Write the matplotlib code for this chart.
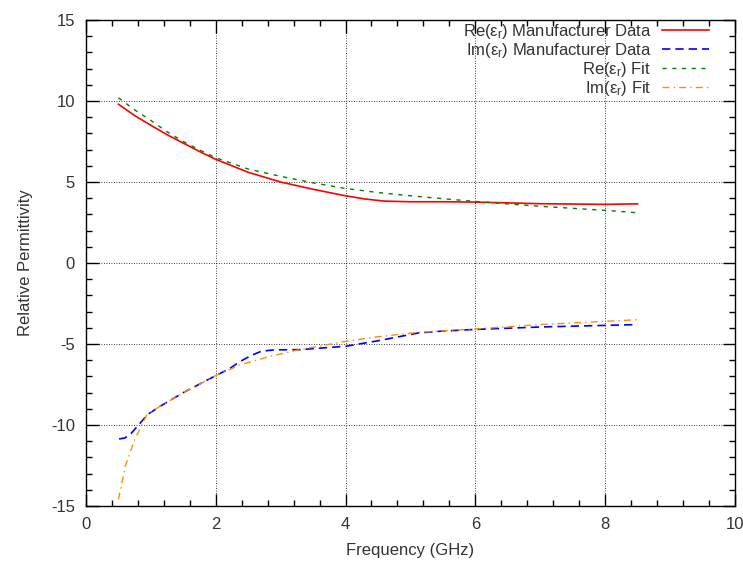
import matplotlib
matplotlib.use("Agg")
import matplotlib.pyplot as plt
from matplotlib.ticker import MultipleLocator

plt.rcParams['font.family'] = ['Liberation Sans', 'DejaVu Sans']
plt.rcParams['mathtext.fontset'] = 'custom'
plt.rcParams['mathtext.rm'] = 'Liberation Sans'
plt.rcParams['mathtext.it'] = 'Liberation Sans'
plt.rcParams['axes.unicode_minus'] = False

txt = '#333333'

# Real part, manufacturer data
re_data_f = [0.5, 0.75, 1.0, 1.25, 1.5, 1.75, 2.0, 2.5, 3.0, 3.5, 4.0, 4.3, 4.6, 5.0, 5.5, 6.0, 7.0, 8.0, 8.5]
re_data = [9.8, 9.1, 8.5, 7.92, 7.4, 6.88, 6.4, 5.6, 5.0, 4.55, 4.15, 3.95, 3.82, 3.78, 3.78, 3.76, 3.66, 3.62, 3.65]

# Imag part, manufacturer data
im_data_f = [0.51, 0.6, 0.7, 0.81, 0.95, 1.14, 1.5, 2.0, 2.2, 2.38, 2.55, 2.7, 2.9, 3.29, 4.0, 4.5, 5.12, 5.5, 6.0, 7.0, 8.0, 8.5]
im_data = [-10.86, -10.8, -10.5, -10.0, -9.35, -8.85, -8.0, -6.95, -6.55, -6.07, -5.7, -5.45, -5.36, -5.35, -5.14, -4.8, -4.32, -4.2, -4.1, -3.95, -3.85, -3.8]

# Real part, fit
re_fit_f = [0.5, 0.75, 1.0, 1.25, 1.5, 1.75, 2.0, 2.5, 3.0, 3.5, 4.0, 4.5, 5.0, 5.5, 6.0, 7.0, 8.0, 8.5]
re_fit = [10.2, 9.45, 8.8, 8.1, 7.5, 6.98, 6.5, 5.8, 5.35, 4.95, 4.6, 4.35, 4.15, 3.97, 3.8, 3.5, 3.25, 3.1]

# Imag part, fit
im_fit_f = [0.5, 0.61, 0.75, 0.94, 1.14, 1.5, 2.0, 2.38, 2.84, 3.29, 4.0, 4.5, 5.12, 6.0, 7.0, 8.0, 8.5]
im_fit = [-14.6, -12.5, -10.9, -9.36, -8.85, -8.0, -6.95, -6.28, -5.76, -5.35, -4.84, -4.55, -4.28, -4.07, -3.8, -3.6, -3.5]

fig = plt.figure(figsize=(7.43, 5.63), dpi=100)
ax = fig.add_axes([0.1157, 0.1012, 0.8733, 0.8633])

ax.plot(re_data_f, re_data, color='red', lw=1.2, ls='-',
        label=r'Re($\mathrm{\varepsilon_r}$) Manufacturer Data')
ax.plot(im_data_f, im_data, color='blue', lw=1.2, ls=(0, (5, 3)),
        label=r'Im($\mathrm{\varepsilon_r}$) Manufacturer Data')
ax.plot(re_fit_f, re_fit, color='green', lw=1.0, ls=(0, (3, 4)),
        label=r'Re($\mathrm{\varepsilon_r}$) Fit')
ax.plot(im_fit_f, im_fit, color='darkorange', lw=1.0, ls=(0, (5, 3, 1, 3)),
        label=r'Im($\mathrm{\varepsilon_r}$) Fit')

ax.set_xlim(0, 10)
ax.set_ylim(-15, 15)
ax.xaxis.set_major_locator(MultipleLocator(2))
ax.xaxis.set_minor_locator(MultipleLocator(0.4))
ax.yaxis.set_major_locator(MultipleLocator(5))
ax.yaxis.set_minor_locator(MultipleLocator(1))
ax.tick_params(which='both', direction='in', top=True, right=True,
               labelsize=12, labelcolor=txt)
ax.tick_params(axis='x', which='major', pad=8)
ax.tick_params(axis='y', which='major', pad=8)
ax.tick_params(which='major', length=9, width=1)
ax.tick_params(which='minor', length=4, width=1)
ax.grid(True, which='major', color='black', ls=(0, (1, 2)), lw=0.6)
for s in ax.spines.values():
    s.set_linewidth(1.0)

ax.set_xlabel('Frequency (GHz)', fontsize=12, color=txt, labelpad=8)
ax.set_ylabel('Relative Permittivity', fontsize=12, color=txt, labelpad=13)

leg = ax.legend(loc='upper right', frameon=False, markerfirst=False, fontsize=12,
                handlelength=2.8, labelspacing=0.0, borderaxespad=0.0,
                borderpad=0.0, handletextpad=0.66,
                bbox_to_anchor=(709 / 743, 1 - 22 / 563),
                bbox_transform=fig.transFigure)
for t in leg.get_texts():
    t.set_color(txt)

fig.savefig('out.png', dpi=100)
